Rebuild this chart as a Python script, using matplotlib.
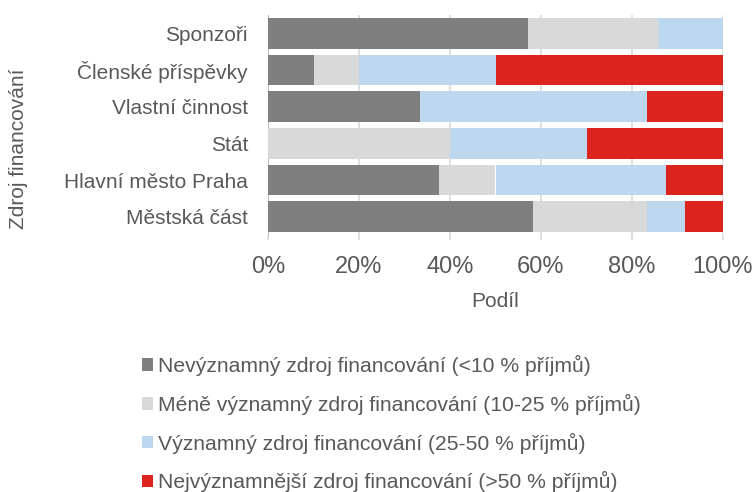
import matplotlib
matplotlib.use("Agg")
import matplotlib.pyplot as plt
from matplotlib.patches import Patch
import numpy as np

plt.rcParams['font.family'] = ['Liberation Sans', 'DejaVu Sans']

categories = ["Sponzoři", "Členské příspěvky", "Vlastní činnost", "Stát",
              "Hlavní město Praha", "Městská část"]
nevyznamny = [57.1, 10.0, 33.3, 0.0, 37.5, 58.3]
mene_vyznamny = [28.6, 10.0, 0.0, 40.0, 12.5, 25.0]
vyznamny = [14.3, 30.0, 50.0, 30.0, 37.5, 8.4]
nejvyznamnejsi = [0.0, 50.0, 16.7, 30.0, 12.5, 8.3]
series_names = ["Nevýznamný zdroj financování (<10 % příjmů)",
                "Méně významný zdroj financování (10-25 % příjmů)",
                "Významný zdroj financování (25-50 % příjmů)",
                "Nejvýznamnější zdroj financování (>50 % příjmů)"]
colors = ["#7f7f7f", "#d9d9d9", "#bdd7ee", "#dc241f"]
xticks = [0, 20, 40, 60, 80, 100]
xticklabels = ["0%", "20%", "40%", "60%", "80%", "100%"]

txt = "#595959"
fig = plt.figure(figsize=(7.53, 4.92), dpi=100)
ax = fig.add_axes([268/753, 1-235/492, (723-268)/753, (235-15)/492])

y = np.arange(len(categories))
left = np.zeros(len(categories))
for vals, c in zip([nevyznamny, mene_vyznamny, vyznamny, nejvyznamnejsi], colors):
    ax.barh(y, vals, left=left, color=c, height=0.83, zorder=3)
    left += np.array(vals)

ax.set_ylim(len(categories)-0.5, -0.5)
ax.set_xlim(0, 100)
ax.set_yticks(y)
ax.set_yticklabels(categories, fontsize=15, color=txt)
ax.set_xticks(xticks)
ax.set_xticklabels(xticklabels, fontsize=17, color=txt)
ax.tick_params(axis='y', length=0, pad=14.4)
ax.tick_params(axis='x', length=3.6, color="#d9d9d9", width=1.2, pad=11.5)
ax.grid(axis='x', color="#d9d9d9", linewidth=1.2, zorder=0)
for s in ['top', 'right', 'bottom']:
    ax.spines[s].set_visible(False)
ax.spines['left'].set_color("#bfbfbf")
ax.set_xlabel("Podíl", fontsize=15, color=txt, labelpad=10)
fig.text(18.5/753, 1-149/492, "Zdroj financování", rotation=90, fontsize=15,
         color=txt, ha='center', va='center')

handles = [Patch(facecolor=c, edgecolor='none') for c in colors]
leg = fig.legend(handles, series_names, loc='upper left',
                 bbox_to_anchor=(142/753, 1-355/492), frameon=False,
                 fontsize=15.2, labelcolor=txt, handlelength=0.53,
                 handleheight=0.53, handletextpad=0.25, labelspacing=0.84,
                 borderpad=0, borderaxespad=0)

fig.savefig("out.png", dpi=100)
